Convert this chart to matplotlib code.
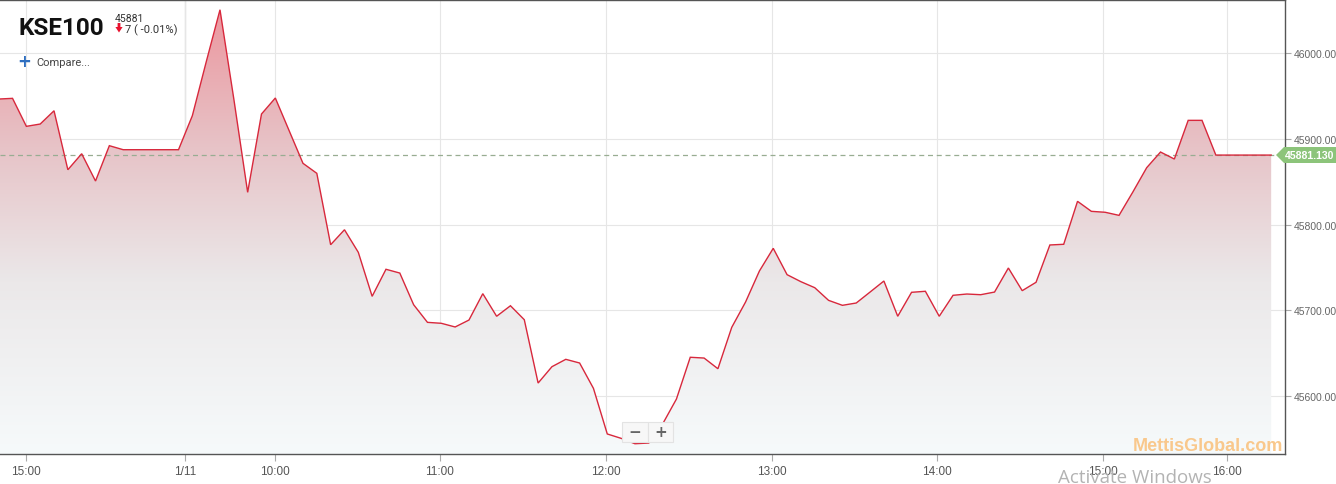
import matplotlib
matplotlib.use('Agg')
import matplotlib.pyplot as plt
import numpy as np
from matplotlib.patches import Rectangle, Polygon

# ---------------- data ----------------
values = [45946.6, 45947.4, 45914.7, 45917.4, 45932.9, 45864.0, 45882.7, 45850.8,
          45892.1, 45887.4, 45887.4, 45887.4, 45887.4, 45887.4, 45927.1, 45989.8,
          46050.9, 45946.6, 45837.6, 45929.1, 45947.8, 45909.6, 45871.5, 45859.8,
          45776.4, 45793.9, 45767.5, 45716.1, 45747.7, 45743.3, 45706.3, 45685.7,
          45684.6, 45680.3, 45688.4, 45719.2, 45692.8, 45705.1, 45688.8, 45614.8,
          45633.9, 45642.5, 45638.2, 45608.6, 45555.3, 45550.2, 45543.9, 45544.7,
          45566.9, 45596.1, 45644.9, 45644.0, 45631.5, 45679.9, 45709.5, 45745.7,
          45772.2, 45741.4, 45733.2, 45726.2, 45711.4, 45705.6, 45708.3, 45721.1,
          45734.0, 45692.8, 45720.8, 45722.0, 45692.8, 45717.3, 45718.8, 45718.0,
          45721.1, 45749.2, 45722.7, 45732.5, 45776.1, 45776.9, 45827.1, 45815.4,
          45814.3, 45810.7, 45838.0, 45866.4, 45884.7, 45876.5, 45921.7, 45921.7,
          45881.13, 45881.13, 45881.13, 45881.13, 45881.13]
last_value = 45881.13
tick_labels = ['15:00', '1/11', '10:00', '11:00', '12:00', '13:00', '14:00', '15:00', '16:00']
tick_index = [2, 13.47, 20, 31.9, 43.9, 55.9, 67.85, 79.85, 88.8]
y_ticks = [45600, 45700, 45800, 45900, 46000]

plt.rcParams['font.family'] = ['Liberation Sans', 'DejaVu Sans']

# ---------------- figure ----------------
W, H = 1336, 485
fig = plt.figure(figsize=(W / 100, H / 100), dpi=100)
fig.patch.set_facecolor('white')


def fx(px):
    return px / W


def fy(py):
    return 1 - py / H


ax = fig.add_axes([0, 30 / H, 1285 / W, 454 / H])
x = np.arange(len(values))
xlim = (0.094, 93.0)
ylim = (45531.9, 46062.3)
ax.set_xlim(*xlim)
ax.set_ylim(*ylim)

# gradient fill under the line
poly = ax.fill_between(x, values, ylim[0], color='none', lw=0)
n = 300
t = np.linspace(0, 1, n)  # 0 = top, 1 = bottom
stops = [(0.0, (236, 148, 156)), (0.33, (231, 196, 200)), (0.62, (235, 232, 233)),
         (1.0, (246, 250, 251))]
cols = np.zeros((n, 3))
for c in range(3):
    cols[:, c] = np.interp(t, [s[0] for s in stops], [s[1][c] for s in stops])
grad = (cols / 255.0).reshape(n, 1, 3)
im = ax.imshow(grad, extent=[xlim[0], xlim[1], ylim[0], ylim[1]], aspect='auto',
               origin='upper', zorder=1, interpolation='bilinear')
im.set_clip_path(poly.get_paths()[0], transform=ax.transData)

ax.plot(x, values, color='#d8283c', lw=1.0, zorder=3, solid_joinstyle='miter')

# grid
ax.set_yticks(y_ticks)
ax.set_yticklabels([f'{v:.2f}' for v in y_ticks])
ax.set_xticks(tick_index)
ax.set_xticklabels(tick_labels)
ax.grid(True, color='#e6e6e6', lw=0.8, zorder=0)
ax.set_axisbelow(True)
ax.axvline(tick_index[1], color='#c4c4c4', lw=0.9, zorder=0.5)

ax.axhline(last_value, color='#98ad92', lw=0.9, ls=(0, (4, 3)), zorder=2)

ax.yaxis.tick_right()
ax.tick_params(axis='y', length=4, color='#aaaaaa', labelcolor='#666666',
               labelsize=7.5, pad=2, direction='out')
ax.tick_params(axis='x', length=5, color='#aaaaaa', labelcolor='#555555',
               labelsize=8.5, pad=3, direction='out')
ax.spines['left'].set_visible(False)
for s in ['top', 'right', 'bottom']:
    ax.spines[s].set_color('#555555')
    ax.spines[s].set_linewidth(1.0)

# last value tag
tag = Polygon([(fx(1276), fy(156)), (fx(1284), fy(148)), (fx(1336), fy(148)),
               (fx(1336), fy(164)), (fx(1284), fy(164))], closed=True,
              transform=fig.transFigure, facecolor='#8cc47a', edgecolor='none', zorder=5)
fig.patches.append(tag)
fig.text(fx(1310), fy(156), f'{last_value:.3f}', color='white', fontsize=7.6,
         weight='bold', ha='center', va='center', zorder=6)

# title block
fig.text(fx(19), fy(35), 'KSE100', family=['Roboto', 'DejaVu Sans'],
         weight='bold', fontsize=17.5, color='#111111', va='baseline')
fig.text(fx(115), fy(21.5), '45881', fontsize=7.5, color='#333333', va='baseline',
         family=['Roboto', 'DejaVu Sans'])
arrow = Polygon([(fx(117.6), fy(24)), (fx(120.4), fy(24)), (fx(120.4), fy(28)),
                 (fx(122.6), fy(28)), (fx(119), fy(33.5)), (fx(115.4), fy(28)),
                 (fx(117.6), fy(28))], closed=True, transform=fig.transFigure,
                facecolor='#e8112d', edgecolor='none')
fig.patches.append(arrow)
fig.text(fx(125), fy(33), '7 ( -0.01%)', fontsize=8, color='#333333', va='baseline',
         family=['Roboto', 'DejaVu Sans'])
fig.text(fx(24.5), fy(62), '+', fontsize=12, color='#2f6fc0', weight='bold',
         ha='center', va='center', family=['DejaVu Sans'])
fig.text(fx(36), fy(66), 'Compare...', fontsize=8, color='#444444', va='baseline',
         family=['Roboto', 'DejaVu Sans'])

# zoom buttons
for (x0, x1, sym) in [(622, 648, '\u2212'), (648, 673, '+')]:
    r = Rectangle((fx(x0), fy(443)), fx(x1) - fx(x0), fy(423) - fy(443),
                  transform=fig.transFigure, facecolor='#f7f7f7', edgecolor='#e3e3e3',
                  lw=0.8, zorder=5)
    fig.patches.append(r)
    fig.text(fx((x0 + x1) / 2), fy(432.5), sym, fontsize=11, color='#666666',
             weight='bold', ha='center', va='center', zorder=6, family=['DejaVu Sans'])

# watermarks
fig.text(fx(1283), fy(451), 'MettisGlobal.com', fontsize=13, weight='bold',
         color='#f9c88c', ha='right', va='baseline')
fig.text(fx(1058), fy(483), 'Activate Windows', fontsize=13.5, color='#b3b3b3',
         va='baseline', family=['Open Sans', 'DejaVu Sans'])

fig.savefig('out.png', dpi=100, facecolor='white')
